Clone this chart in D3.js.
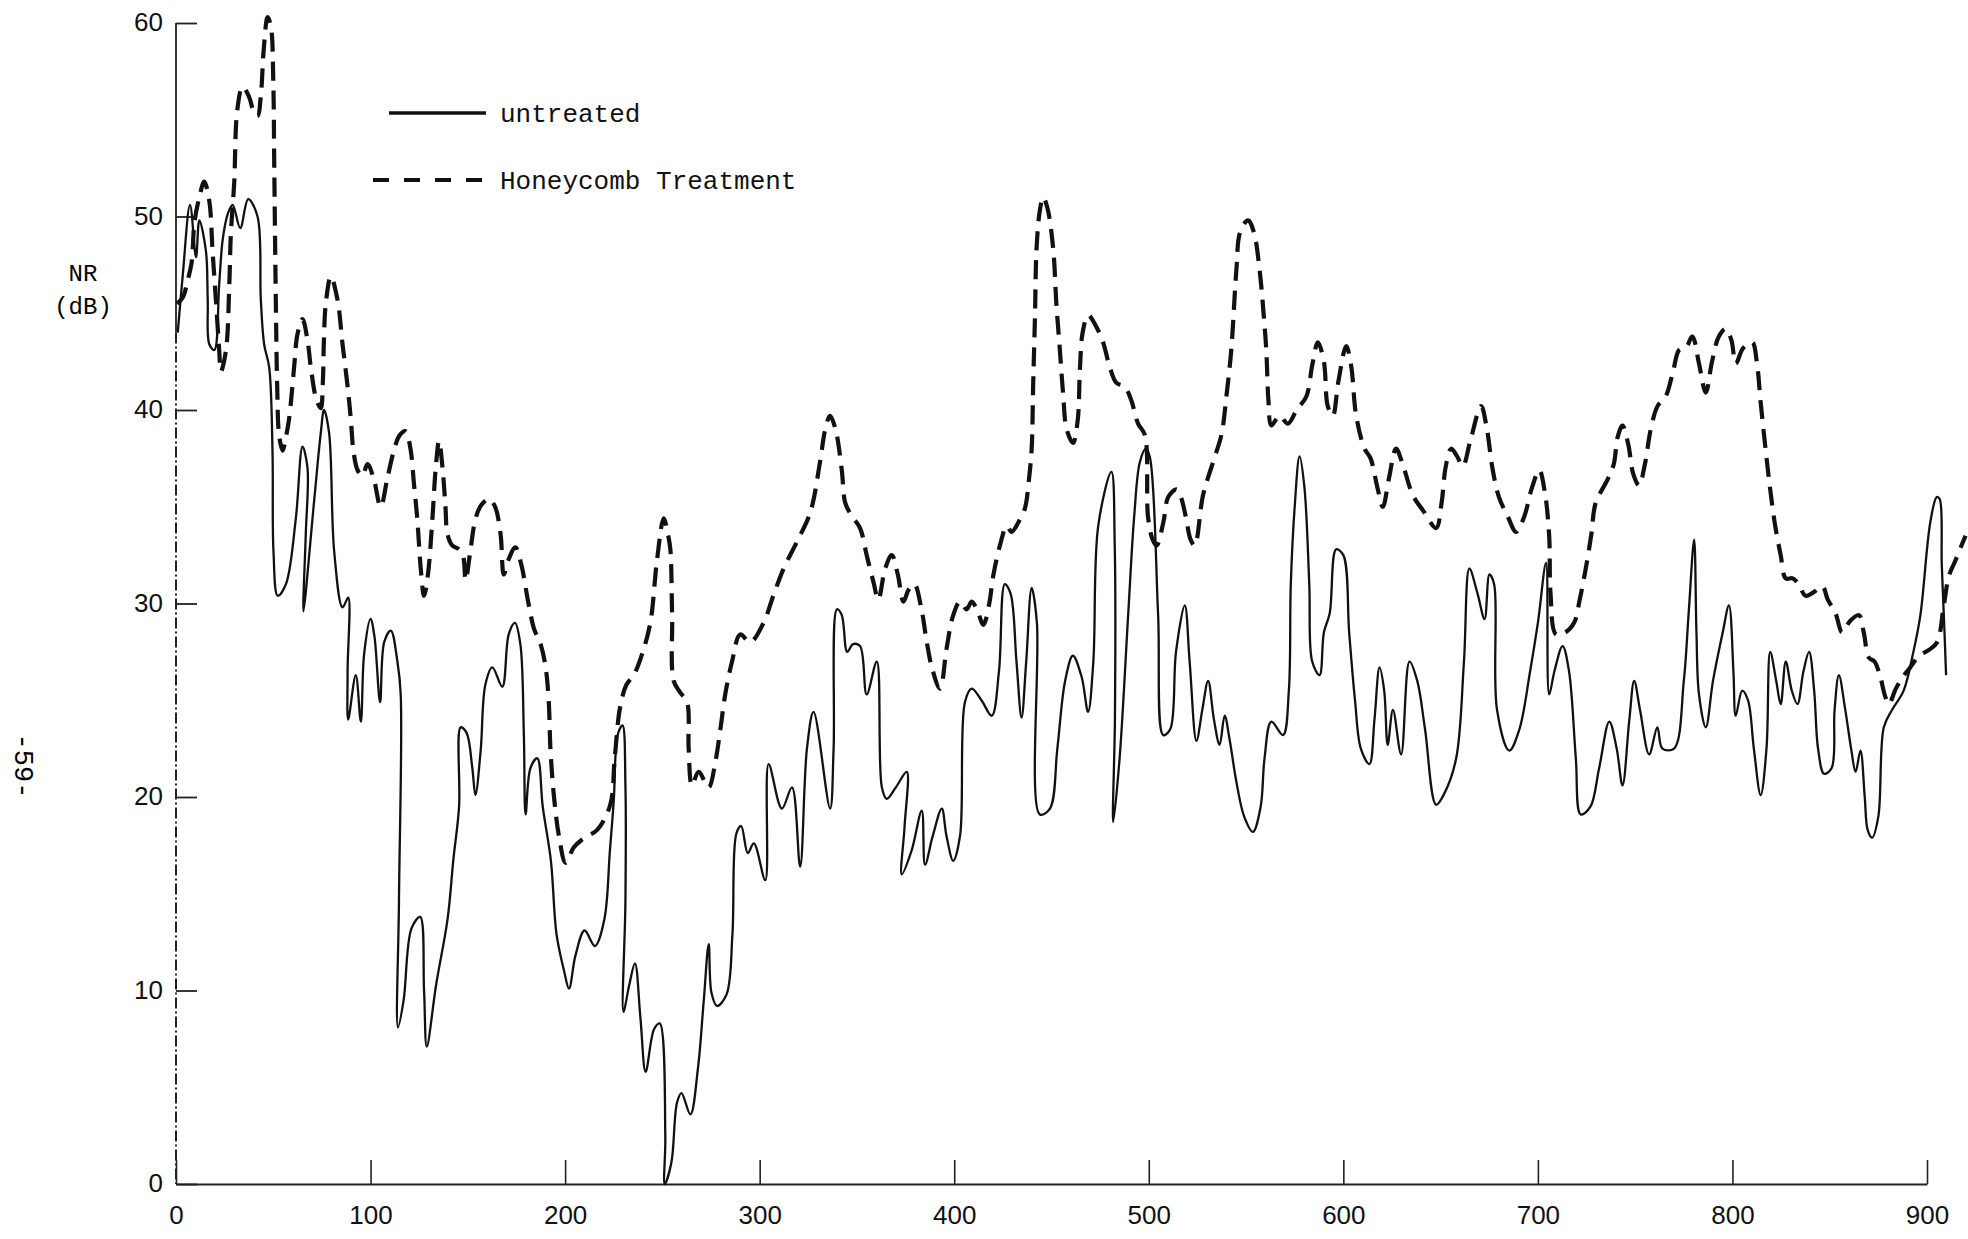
<!DOCTYPE html>
<html>
<head>
<meta charset="utf-8">
<script src="https://cdn.jsdelivr.net/npm/d3@7"></script>
<style>
  body { margin: 0; background: #fff; }
  .tick text { font-family: "Liberation Sans", Arial, sans-serif; }
</style>
</head>
<body>
<div id="container"></div>
<script>
/* CONSTANTS AND GLOBALS */
const width = 1968,
  height = 1239;

/* DATA (frequency, NR in dB) */
const untreatedHz = [0.9, 3.5, 7.2, 10.3, 12.0, 15.4, 16.3, 17.1, 19.7, 22.2, 24.0, 26.5, 29.1, 33.0, 37.1, 41.9, 43.6, 45.3, 47.9, 49.6, 50.1, 52.3, 56.5, 61.6, 65.0, 67.6, 66.7, 65.5, 71.0, 74.4, 76.1, 78.7, 81.3, 85.6, 88.5, 88.2, 88.5, 92.4, 95.0, 96.7, 100.0, 102.0, 104.9, 107.0, 110.4, 113.8, 115.5, 114.6, 114.1, 117.0, 121.0, 125.5, 127.5, 128.9, 133.7, 139.6, 142.6, 145.5, 146.3, 149.4, 152.3, 153.9, 156.6, 159.0, 162.6, 167.7, 171.0, 174.2, 177.0, 178.8, 179.7, 182.2, 185.7, 188.5, 192.7, 195.6, 199.5, 202.0, 205.3, 210.0, 215.3, 220.2, 223.0, 225.0, 227.0, 229.5, 231.0, 231.0, 230.0, 233.0, 235.9, 238.7, 241.4, 245.7, 248.6, 251.5, 251.2, 254.6, 257.5, 259.8, 264.4, 268.3, 271.2, 273.8, 275.2, 278.1, 283.0, 286.0, 288.0, 290.5, 293.9, 297.0, 302.9, 304.6, 311.4, 316.6, 320.8, 324.3, 327.7, 336.2, 338.0, 339.7, 342.2, 345.0, 348.0, 351.6, 355.0, 360.2, 362.8, 365.3, 370.0, 375.6, 374.5, 373.0, 378.0, 383.3, 385.0, 389.0, 393.6, 396.0, 399.5, 403.0, 405.5, 409.0, 414.0, 419.3, 423.0, 426.0, 429.0, 432.0, 434.6, 437.0, 439.8, 442.5, 444.0, 449.2, 453.0, 457.0, 461.0, 465.5, 468.8, 471.5, 474.0, 480.8, 482.5, 482.6, 481.7, 485.0, 489.4, 492.5, 495.4, 498.5, 500.5, 504.8, 507.4, 511.0, 514.0, 518.5, 521.0, 524.5, 527.5, 530.5, 533.5, 536.4, 539.0, 541.5, 545.0, 549.0, 553.5, 557.5, 559.5, 563.0, 569.0, 572.0, 573.0, 575.0, 577.5, 580.0, 582.5, 584.0, 587.8, 590.0, 593.0, 596.3, 600.0, 603.0, 606.0, 609.0, 613.4, 616.0, 618.6, 621.0, 622.8, 625.5, 629.7, 634.0, 638.0, 642.0, 647.7, 652.0, 658.0, 662.0, 664.8, 669.0, 672.6, 675.1, 677.5, 679.0, 685.3, 690.5, 696.0, 700.0, 704.2, 705.8, 708.5, 712.7, 716.0, 719.5, 722.0, 727.0, 731.5, 736.7, 740.5, 743.5, 747.0, 749.5, 752.5, 757.2, 761.4, 764.0, 770.0, 775.0, 777.5, 780.3, 781.5, 782.8, 786.3, 790.0, 795.0, 798.2, 800.5, 801.7, 805.0, 808.0, 811.0, 814.5, 817.5, 819.4, 822.5, 824.8, 827.4, 830.5, 833.4, 836.5, 839.4, 842.0, 844.0, 847.1, 851.0, 852.5, 854.7, 858.0, 861.0, 863.3, 865.8, 868.0, 869.5, 871.8, 875.0, 877.8, 882.0, 888.0, 893.0, 896.6, 901.7, 905.0, 906.5, 907.6, 909.0, 909.8];
const untreatedNR = [44.0, 47.0, 50.6, 47.9, 49.8, 48.2, 45.7, 43.4, 43.1, 46.5, 48.8, 50.1, 50.6, 49.4, 50.9, 50.0, 45.7, 43.4, 42.2, 37.9, 32.7, 30.4, 31.0, 34.4, 38.1, 37.0, 33.6, 29.6, 35.3, 38.8, 40.0, 38.8, 32.7, 29.8, 30.3, 26.5, 24.0, 26.3, 23.9, 27.4, 29.2, 28.3, 24.9, 28.0, 28.6, 27.0, 25.3, 14.6, 8.1, 9.5, 13.2, 13.8, 10.0, 7.1, 10.3, 13.7, 16.8, 19.5, 23.6, 23.3, 21.5, 20.1, 22.4, 25.8, 26.7, 25.7, 28.4, 29.0, 27.9, 23.2, 19.1, 21.5, 22.0, 19.5, 16.7, 12.9, 11.0, 10.1, 11.8, 13.1, 12.3, 13.7, 17.2, 19.8, 23.2, 23.7, 20.6, 14.6, 8.9, 10.3, 11.4, 8.6, 5.8, 8.0, 8.3, 2.5, 0.0, 1.1, 4.2, 4.7, 3.6, 6.0, 9.4, 12.4, 9.9, 9.2, 9.8, 12.9, 18.1, 18.5, 17.1, 17.6, 15.7, 21.7, 19.4, 20.5, 16.4, 22.5, 24.4, 19.4, 22.5, 29.7, 29.4, 27.5, 27.9, 27.8, 25.3, 27.0, 20.5, 19.9, 20.5, 21.3, 18.5, 16.0, 17.2, 19.3, 16.5, 18.0, 19.4, 18.0, 16.7, 18.0, 24.9, 25.6, 25.0, 24.2, 26.5, 31.0, 30.5, 27.0, 24.1, 27.0, 30.8, 29.0, 19.1, 19.4, 22.5, 26.0, 27.3, 26.2, 24.4, 27.0, 34.0, 36.8, 33.0, 24.0, 18.7, 22.0, 29.4, 34.5, 37.3, 38.0, 37.6, 29.4, 23.2, 23.5, 27.5, 29.9, 27.0, 22.9, 24.5, 26.0, 24.0, 22.7, 24.2, 23.0, 20.8, 19.0, 18.2, 19.5, 22.0, 23.9, 23.2, 25.5, 31.0, 35.0, 37.6, 36.0, 31.0, 27.0, 26.3, 28.5, 29.5, 32.8, 32.5, 28.5, 25.0, 22.5, 21.7, 24.0, 26.7, 25.5, 22.7, 24.5, 22.2, 27.0, 26.0, 23.5, 19.6, 20.2, 22.0, 27.0, 31.8, 30.5, 29.2, 31.5, 31.0, 24.5, 22.4, 23.5, 26.5, 29.0, 32.1, 25.3, 26.5, 27.8, 26.5, 22.0, 19.1, 19.5, 21.5, 23.9, 22.5, 20.6, 24.0, 26.0, 24.5, 22.2, 23.6, 22.5, 22.5, 26.0, 29.5, 33.3, 28.5, 25.3, 23.6, 26.0, 28.5, 29.9, 26.5, 24.2, 25.5, 25.0, 22.5, 20.1, 22.5, 27.5, 26.0, 24.8, 27.0, 25.5, 24.8, 26.5, 27.5, 25.5, 22.5, 21.2, 21.5, 24.5, 26.3, 24.5, 22.5, 21.3, 22.4, 20.0, 18.3, 17.9, 19.0, 23.6, 24.5, 25.5, 27.5, 29.4, 34.2, 35.5, 35.4, 32.0, 28.5, 26.3];

const honeycombHz = [0.5, 3.4, 6.0, 8.0, 9.5, 12.0, 14.5, 17.1, 18.8, 20.5, 22.2, 23.1, 25.7, 27.4, 28.2, 29.9, 31.5, 34.2, 37.5, 40.0, 41.9, 43.8, 45.0, 47.1, 48.8, 50.0, 50.5, 51.3, 52.0, 53.0, 54.8, 56.5, 58.2, 60.7, 62.4, 65.0, 67.6, 69.3, 72.0, 74.4, 75.5, 76.0, 77.0, 79.6, 83.0, 85.6, 88.1, 89.8, 91.2, 93.3, 95.8, 98.4, 101.5, 105.2, 108.7, 112.0, 115.0, 118.0, 120.5, 122.3, 124.0, 125.8, 127.5, 129.5, 131.8, 133.5, 135.2, 137.0, 138.5, 139.5, 142.0, 145.5, 147.5, 148.9, 151.0, 154.0, 157.0, 160.8, 164.0, 166.8, 168.5, 171.0, 174.5, 177.5, 181.0, 184.0, 187.4, 190.0, 191.6, 192.5, 194.2, 196.8, 200.3, 204.5, 210.0, 216.5, 223.2, 225.5, 228.2, 231.5, 235.3, 239.6, 243.8, 247.3, 250.7, 253.0, 254.1, 255.0, 255.8, 259.2, 262.7, 263.5, 265.2, 268.6, 273.8, 277.2, 279.8, 282.3, 285.8, 290.0, 295.2, 302.0, 307.0, 312.3, 319.2, 326.0, 331.0, 333.7, 336.2, 339.0, 342.2, 344.0, 347.5, 351.6, 355.0, 358.5, 361.0, 364.5, 367.9, 371.0, 373.9, 376.5, 379.5, 383.0, 385.9, 388.5, 392.7, 396.1, 399.5, 403.0, 406.4, 409.0, 412.0, 415.0, 418.0, 420.0, 423.5, 427.0, 429.5, 433.0, 436.3, 438.5, 439.8, 440.6, 441.5, 442.3, 444.0, 445.7, 448.0, 450.9, 452.5, 454.3, 456.0, 457.8, 461.1, 463.5, 464.6, 466.0, 468.8, 472.5, 476.5, 480.0, 483.4, 487.7, 491.0, 494.5, 498.0, 499.6, 502.0, 504.0, 507.5, 510.0, 514.2, 516.5, 519.0, 521.5, 523.6, 527.9, 533.0, 537.3, 540.0, 542.4, 545.0, 547.0, 551.0, 554.0, 557.0, 559.0, 560.4, 561.5, 563.0, 567.2, 571.5, 576.0, 581.0, 584.0, 586.9, 590.0, 592.0, 594.6, 597.5, 601.5, 604.0, 606.6, 610.9, 614.0, 617.5, 620.3, 623.5, 627.1, 630.5, 635.7, 641.0, 647.7, 650.5, 652.5, 655.4, 658.5, 661.4, 665.5, 670.8, 673.5, 676.8, 680.0, 684.5, 688.8, 693.0, 697.0, 700.7, 703.5, 705.8, 706.5, 709.3, 714.0, 718.6, 721.5, 724.6, 727.5, 729.7, 735.8, 739.0, 741.0, 743.5, 746.5, 749.0, 752.0, 755.0, 758.0, 761.5, 765.7, 769.5, 772.6, 776.0, 779.4, 782.8, 786.3, 789.5, 793.0, 796.5, 799.5, 801.7, 805.5, 810.2, 812.5, 814.5, 817.0, 819.4, 822.0, 824.8, 827.4, 831.0, 834.0, 837.6, 842.0, 846.2, 849.0, 853.0, 856.4, 860.5, 865.0, 867.5, 870.1, 873.0, 876.0, 878.5, 880.4, 884.0, 887.5, 890.7, 896.0, 901.0, 905.2, 908.5, 911.2, 914.5, 919.8];
const honeycombNR = [45.5, 45.8, 46.7, 47.6, 49.7, 51.0, 51.8, 50.8, 48.2, 45.7, 43.1, 42.0, 43.1, 46.5, 49.1, 51.7, 55.5, 56.7, 56.2, 55.4, 55.2, 56.5, 58.5, 60.3, 59.8, 57.0, 52.6, 45.7, 41.3, 38.7, 37.9, 38.6, 39.6, 42.2, 43.9, 44.7, 43.6, 42.2, 40.6, 40.1, 41.5, 43.5, 45.5, 46.9, 45.7, 43.4, 41.3, 39.6, 37.9, 36.9, 36.6, 37.2, 36.5, 35.0, 36.5, 37.9, 38.7, 38.9, 38.0, 36.2, 34.4, 31.8, 30.4, 31.5, 34.4, 37.0, 38.4, 37.0, 35.0, 33.6, 33.0, 32.8, 32.5, 31.2, 32.5, 34.4, 35.1, 35.4, 35.0, 33.6, 31.5, 32.3, 32.9, 32.0, 30.1, 28.7, 27.9, 26.7, 24.9, 22.4, 20.1, 18.0, 16.6, 17.4, 17.9, 18.3, 19.6, 22.0, 24.6, 25.8, 26.3, 27.4, 29.0, 32.3, 34.4, 33.5, 32.8, 29.4, 26.0, 25.4, 24.9, 22.5, 20.6, 21.3, 20.5, 21.8, 23.5, 25.3, 27.0, 28.4, 28.0, 29.0, 30.4, 31.8, 33.2, 34.7, 37.3, 39.0, 39.7, 39.0, 36.9, 35.2, 34.5, 33.9, 32.5, 31.1, 30.2, 31.8, 32.5, 31.5, 30.1, 30.7, 31.0, 29.8, 28.0, 26.7, 25.6, 27.7, 29.4, 30.1, 29.7, 30.1, 29.6, 28.9, 30.0, 31.4, 33.0, 34.0, 33.7, 34.2, 34.9, 36.5, 38.0, 41.4, 44.8, 48.3, 50.3, 51.0, 50.4, 48.3, 45.5, 43.1, 40.8, 39.0, 38.3, 39.5, 42.1, 44.0, 44.9, 44.4, 43.5, 42.2, 41.4, 41.2, 40.5, 39.3, 38.7, 34.5, 33.3, 33.0, 34.2, 35.5, 35.9, 35.5, 34.5, 33.3, 33.0, 35.6, 37.3, 38.7, 40.8, 43.1, 47.2, 49.2, 49.8, 49.2, 47.2, 45.0, 43.1, 40.5, 39.2, 39.7, 39.3, 40.0, 40.7, 42.3, 43.5, 42.5, 40.2, 39.7, 41.5, 43.3, 42.3, 39.7, 38.0, 37.5, 36.0, 35.0, 36.5, 38.0, 37.2, 35.6, 34.8, 33.9, 35.2, 37.0, 38.0, 37.6, 37.1, 38.5, 40.2, 39.2, 36.9, 35.5, 34.5, 33.7, 34.5, 36.0, 36.9, 35.8, 33.5, 30.5, 28.4, 28.5, 29.0, 30.2, 31.8, 33.6, 35.2, 36.4, 37.2, 38.6, 39.2, 38.2, 36.7, 36.1, 37.2, 39.0, 40.2, 40.7, 42.0, 43.1, 43.2, 43.8, 42.4, 40.9, 42.5, 43.8, 44.2, 43.6, 42.4, 43.2, 43.5, 42.5, 40.4, 38.0, 35.9, 34.0, 32.5, 31.3, 31.3, 31.0, 30.4, 30.6, 30.9, 30.2, 29.5, 28.5, 29.1, 29.4, 28.5, 27.2, 27.0, 26.2, 25.2, 24.8, 25.6, 26.2, 26.6, 27.3, 27.6, 28.0, 29.8, 31.4, 32.2, 33.5];

const xTicks = [0, 100, 200, 300, 400, 500, 600, 700, 800, 900];
const yTicks = [0, 10, 20, 30, 40, 50, 60];
const seriesNames = ["untreated", "Honeycomb Treatment"];

const svg = d3.select("#container")
  .append("svg")
  .attr("width", width)
  .attr("height", height)
  .style("background-color", "#fff")

/* SCALES */
const xScale = d3.scaleLinear()
  .domain([0, 900])
  .range([176, 1927])

const yScale = d3.scaleLinear()
  .domain([0, 60])
  .range([1184, 23])

const line = d3.line()
  .x(d => xScale(d[0]))
  .y(d => yScale(d[1]))
  .curve(d3.curveCatmullRom.alpha(0.5))

/* AXES */
const xAxis = svg.append("g")
  .attr("class", "x-axis")
  .attr("transform", `translate(0, ${yScale(0)})`)
  .call(d3.axisBottom(xScale).tickValues(xTicks).tickSizeInner(-24).tickSizeOuter(0).tickPadding(22))

xAxis.select(".domain").attr("stroke", "#222").attr("stroke-width", 2)
xAxis.selectAll(".tick line").attr("stroke", "#222").attr("stroke-width", 1.6)
xAxis.selectAll("text")
  .style("font-size", "26px")
  .attr("fill", "#111")

const yAxis = svg.append("g")
  .attr("class", "y-axis")
  .attr("transform", `translate(${xScale(0)}, 0)`)
  .call(d3.axisLeft(yScale).tickValues(yTicks).tickSizeInner(-21).tickSizeOuter(0).tickPadding(13))

// the scanned axis is solid at the top and broken (dash-dot) further down
yAxis.select(".domain").remove()
yAxis.append("line")
  .attr("y1", yScale(60)).attr("y2", yScale(44))
  .attr("stroke", "#222").attr("stroke-width", 1.8)
yAxis.append("line")
  .attr("y1", yScale(44)).attr("y2", yScale(0))
  .attr("stroke", "#222").attr("stroke-width", 2)
  .attr("stroke-dasharray", "11,3,2,3")

yAxis.selectAll(".tick line").attr("stroke", "#222").attr("stroke-width", 1.8)
yAxis.selectAll("text")
  .style("font-size", "26px")
  .attr("fill", "#111")
  .attr("dy", "0.3em")

/* CURVES */
const untreated = d3.zip(untreatedHz, untreatedNR)
const honeycomb = d3.zip(honeycombHz, honeycombNR)

svg.append("path")
  .datum(untreated)
  .attr("d", line)
  .attr("fill", "none")
  .attr("stroke", "#111")
  .attr("stroke-width", 2.3)
  .attr("stroke-linejoin", "round")

svg.append("path")
  .datum(honeycomb)
  .attr("d", line)
  .attr("fill", "none")
  .attr("stroke", "#111")
  .attr("stroke-width", 4.2)
  .attr("stroke-dasharray", "19,10")

/* LABELS AND LEGEND */
const mono = "'Courier New', 'Liberation Mono', monospace"

svg.append("text")
  .attr("x", 83).attr("y", 281)
  .attr("text-anchor", "middle")
  .style("font-family", mono).style("font-size", "24px")
  .text("NR")

svg.append("text")
  .attr("x", 83).attr("y", 314)
  .attr("text-anchor", "middle")
  .style("font-family", mono).style("font-size", "24px")
  .text("(dB)")

svg.append("text")
  .attr("transform", "translate(15, 766) rotate(90)")
  .attr("text-anchor", "middle")
  .style("font-family", mono).style("font-size", "27px")
  .text("-59-")

const legend = svg.append("g").attr("class", "legend")

legend.append("line")
  .attr("x1", 389).attr("x2", 486)
  .attr("y1", 113).attr("y2", 113)
  .attr("stroke", "#111").attr("stroke-width", 3.5)

legend.append("line")
  .attr("x1", 373).attr("x2", 483)
  .attr("y1", 180).attr("y2", 180)
  .attr("stroke", "#111").attr("stroke-width", 4)
  .attr("stroke-dasharray", "16,15")

legend.selectAll(".legend-label")
  .data(seriesNames)
  .join("text")
  .attr("class", "legend-label")
  .attr("x", 500)
  .attr("y", (d, i) => 113 + i * 67)
  .attr("dy", "0.33em")
  .style("font-family", mono)
  .style("font-size", "26px")
  .attr("fill", "#111")
  .text(d => d)
</script>
</body>
</html>
